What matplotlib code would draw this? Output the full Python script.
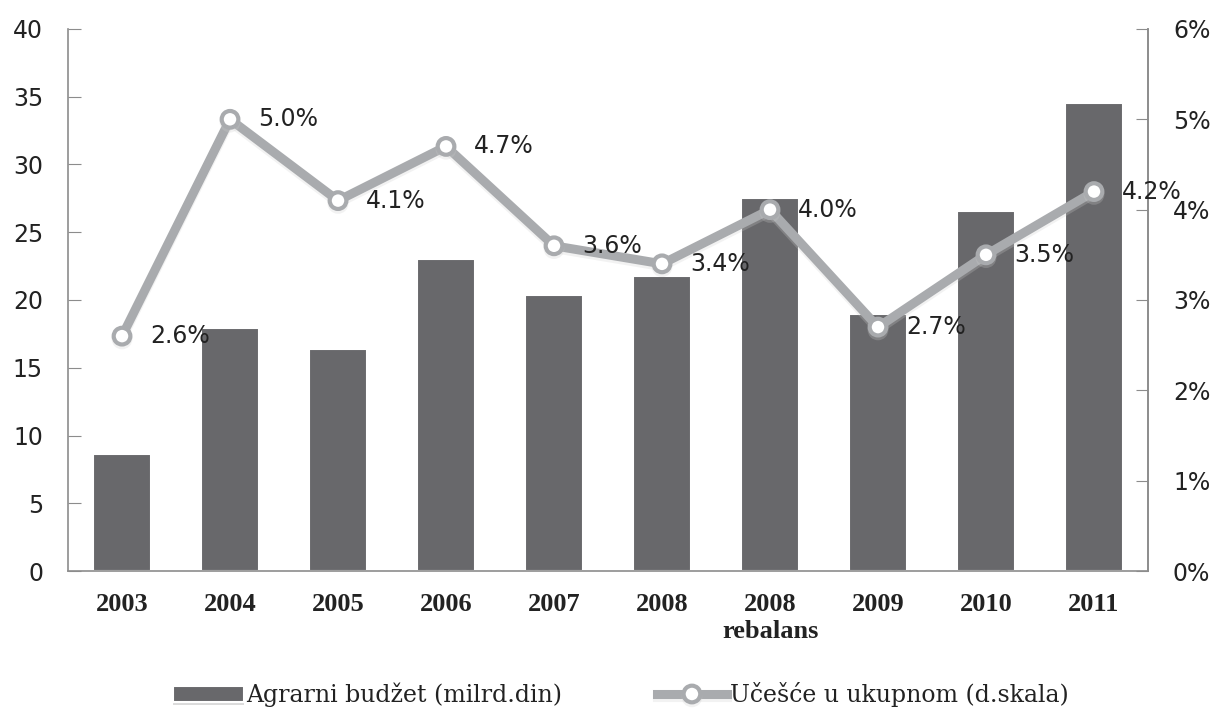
import numpy as np
import matplotlib.pyplot as plt
import matplotlib.patheffects as pe
from matplotlib.ticker import FuncFormatter

years = ["2003", "2004", "2005", "2006", "2007", "2008", "2008\nrebalans", "2009", "2010", "2011"]
budget = [8.6, 17.9, 16.4, 23.0, 20.4, 21.8, 27.5, 19.0, 26.6, 34.5]
share = [2.6, 5.0, 4.1, 4.7, 3.6, 3.4, 4.0, 2.7, 3.5, 4.2]

barCol = "#68686b"
lineCol = "#a9abae"
axCol = "#8c8c8c"
txtCol = "#222222"
sansF = "DejaVu Sans"
serifF = "Liberation Serif"

fig = plt.figure(figsize=(12.17, 7.17), dpi=100)
Ax = fig.add_axes([0.0559, 0.2036, 0.8874, 0.756])
x = np.arange(len(years))

bars = Ax.bar(x, budget, width=0.54, color=barCol, edgecolor="white", linewidth=1.5,
              label="Agrarni budžet (milrd.din)", zorder=2)
for b in bars:
    b.set_path_effects([pe.SimplePatchShadow(offset=(0, -2), shadow_rgbFace="#999999", alpha=0.35),
                        pe.Normal()])

Ax.set_xlim(-0.5, len(years) - 0.5)
Ax.set_ylim(0, 40)
Ax.set_yticks(np.arange(0, 41, 5))
Ax.set_xticks(x)
Ax.set_xticklabels(years, fontfamily=serifF, fontweight="bold", fontsize=19, color=txtCol,
                   linespacing=1.2)
Ax.tick_params(axis="x", length=0, pad=16)
Ax.tick_params(axis="y", direction="in", length=9, color=axCol, pad=18, labelsize=17,
               labelcolor=txtCol)
for lab in Ax.get_yticklabels():
    lab.set_fontfamily(sansF)
Ax.spines["top"].set_visible(False)
for s in ["left", "bottom", "right"]:
    Ax.spines[s].set_color(axCol)
    Ax.spines[s].set_linewidth(1.2)

Ax2 = Ax.twinx()
Ax2.set_ylim(0, 6)
Ax2.set_yticks(np.arange(0, 7, 1))
Ax2.yaxis.set_major_formatter(FuncFormatter(lambda v, p: "%d%%" % v))
Ax2.tick_params(axis="y", direction="in", length=9, color=axCol, pad=18, labelsize=17,
                labelcolor=txtCol)
for lab in Ax2.get_yticklabels():
    lab.set_fontfamily(sansF)
for s in ["left", "top", "bottom"]:
    Ax2.spines[s].set_visible(False)
Ax2.spines["right"].set_color(axCol)
Ax2.spines["right"].set_linewidth(1.2)

ln, = Ax2.plot(x, share, color=lineCol, linewidth=6.5, marker="o", markersize=12,
               markerfacecolor="white", markeredgecolor=lineCol, markeredgewidth=3,
               solid_joinstyle="round", label="Učešće u ukupnom (d.skala)", zorder=3,
               path_effects=[pe.SimpleLineShadow(offset=(0, -2), shadow_color="#cccccc", alpha=0.25),
                             pe.Normal()])
for xi, v in zip(x, share):
    Ax2.annotate("%.1f%%" % v, (xi, v), xytext=(20, 0), textcoords="offset points",
                 ha="left", va="center", fontsize=17, fontfamily=sansF, color=txtCol, zorder=4)

fig.legend([bars, ln], ["Agrarni budžet (milrd.din)", "Učešće u ukupnom (d.skala)"],
           loc="center", bbox_to_anchor=(0.51, 0.031), ncol=2, frameon=False,
           prop={"family": "DejaVu Serif", "size": 17}, handlelength=3, handletextpad=0.1,
           columnspacing=4, labelcolor=txtCol)

fig.savefig("out.png", dpi=100)
